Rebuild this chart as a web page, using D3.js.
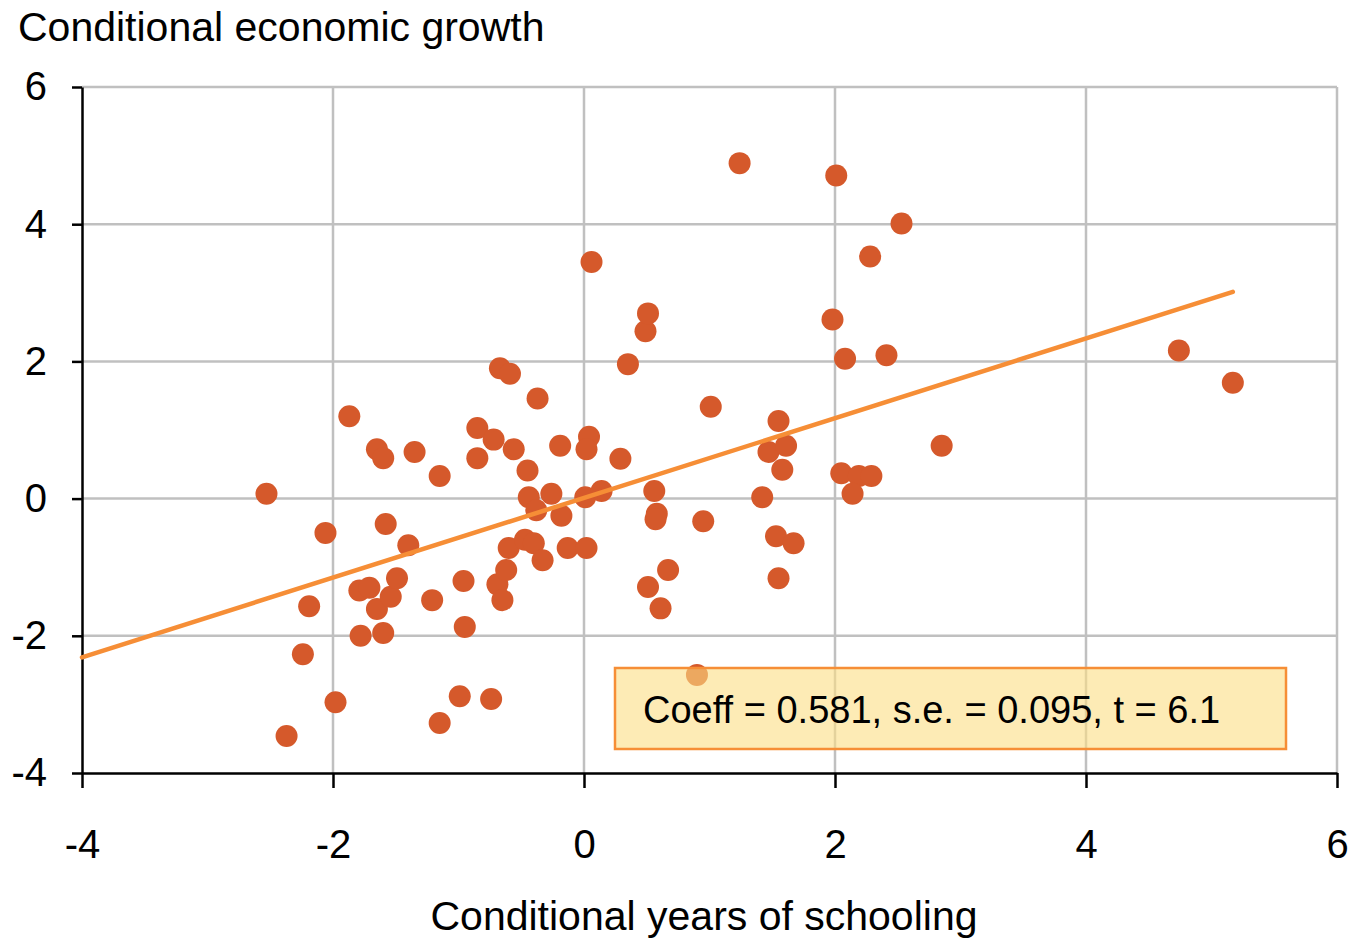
<!DOCTYPE html>
<html>
<head>
<meta charset="utf-8">
<script src="https://cdn.jsdelivr.net/npm/d3@7"></script>
<style>
  body { margin: 0; background: #fff; }
  text { font-family: "Liberation Sans", Arial, sans-serif; fill: #000; }
</style>
</head>
<body>
<div id="chart"></div>
<script>
// conditional years of schooling (x) and conditional economic growth (y), one entry per country
const schooling = [
  -2.53, -1.87, -2.06, -2.19, -2.24, -2.37, -1.98, -1.78, -1.79, -1.71,
  -1.65, -1.54, -1.60, -1.49, -1.65, -1.60, -1.58, -1.40, -1.35, -1.15,
  -1.21, -1.15, -0.99, -0.96, -0.95, -0.85, -0.85, -0.74, -0.72, -0.69,
  -0.62, -0.65, -0.60, -0.67, -0.59, -0.56, -0.37, -0.45, -0.44, -0.38,
  -0.47, -0.40, -0.33, -0.26, -0.18, -0.19, -0.13, 0.02, 0.01, 0.04,
  0.02, 0.14, 0.29, 0.06, 0.35, 0.49, 0.51, 0.56, 0.58, 0.57,
  0.51, 0.61, 0.67, 0.90, 0.95, 1.01, 1.24, 1.42, 1.47, 1.55,
  1.61, 1.58, 1.53, 1.67, 1.55, 2.01, 1.98, 2.08, 2.05, 2.19,
  2.29, 2.14, 2.28, 2.53, 2.41, 2.85, 4.74, 5.17
];
const growth = [
  0.07, 1.20, -0.50, -1.57, -2.27, -3.46, -2.97, -2.00, -1.34, -1.30,
  -1.61, -1.43, -1.96, -1.16, 0.72, 0.59, -0.37, -0.68, 0.68, 0.33,
  -1.48, -3.27, -2.88, -1.20, -1.87, 1.03, 0.59, -2.92, 0.86, -1.25,
  -1.04, -1.48, -0.72, 1.90, 1.82, 0.72, 1.46, 0.41, 0.02, -0.17,
  -0.60, -0.65, -0.90, 0.07, -0.25, 0.77, -0.72, -0.72, 0.02, 0.90,
  0.72, 0.11, 0.58, 3.45, 1.96, 2.44, 2.70, 0.11, -0.22, -0.30,
  -1.29, -1.60, -1.04, -2.57, -0.33, 1.34, 4.89, 0.02, 0.68, 1.13,
  0.77, 0.42, -0.55, -0.65, -1.16, 4.71, 2.61, 2.04, 0.37, 0.33,
  0.33, 0.07, 3.53, 4.01, 2.09, 0.77, 2.16, 1.69
];

const xTicks = [-4, -2, 0, 2, 4, 6];
const yTicks = [-4, -2, 0, 2, 4, 6];

// fitted line
const coeff = 0.581;
const intercept = 0.01;
const fitRange = [-4, 5.17];
const statsText = 'Coeff = 0.581, s.e. = 0.095, t = 6.1';

const width = 1357, height = 940;
const margin = { top: 87, right: 20, bottom: 167, left: 82 };

const svg = d3.select('#chart').append('svg')
    .attr('width', width)
    .attr('height', height);

const x = d3.scaleLinear().domain([-4, 6]).range([margin.left, width - margin.right]);
const y = d3.scaleLinear().domain([-4, 6]).range([height - margin.bottom, margin.top]);

// gridlines
svg.append('g').selectAll('line.v')
    .data(xTicks.slice(1))
    .join('line')
    .attr('x1', d => x(d)).attr('x2', d => x(d))
    .attr('y1', y(-4)).attr('y2', y(6))
    .attr('stroke', '#c0c0c0').attr('stroke-width', 2.5);

svg.append('g').selectAll('line.h')
    .data(yTicks.slice(1))
    .join('line')
    .attr('x1', x(-4)).attr('x2', x(6))
    .attr('y1', d => y(d)).attr('y2', d => y(d))
    .attr('stroke', '#c0c0c0').attr('stroke-width', 2.5);

// axes (plain hyphen for negatives, like the original)
const fmt = d => String(d);

const yAxis = svg.append('g')
    .attr('transform', `translate(${margin.left},0)`)
    .call(d3.axisLeft(y).tickValues(yTicks).tickFormat(fmt).tickSize(10).tickSizeOuter(0).tickPadding(25));

const xAxis = svg.append('g')
    .attr('transform', `translate(0,${height - margin.bottom})`)
    .call(d3.axisBottom(x).tickValues(xTicks).tickFormat(fmt).tickSize(15).tickSizeOuter(0).tickPadding(42));

[yAxis, xAxis].forEach(g => {
  g.select('.domain').attr('stroke', '#000').attr('stroke-width', 2.5);
  g.selectAll('.tick line').attr('stroke', '#000').attr('stroke-width', 2.5);
  g.selectAll('.tick text')
    .style('font-family', '"Liberation Sans", Arial, sans-serif')
    .style('font-size', '40px')
    .attr('fill', '#000');
});

// points
svg.append('g').selectAll('circle')
    .data(d3.zip(schooling, growth))
    .join('circle')
    .attr('cx', d => x(d[0]))
    .attr('cy', d => y(d[1]))
    .attr('r', 11)
    .attr('fill', '#d5592b');

// fitted line
const fitLine = d3.line()
    .x(d => x(d))
    .y(d => y(intercept + coeff * d));

svg.append('path')
    .attr('d', fitLine(fitRange))
    .attr('fill', 'none')
    .attr('stroke', '#f68e36')
    .attr('stroke-width', 4.5)
    .attr('stroke-linecap', 'round');

// stats box
svg.append('rect')
    .attr('x', 615).attr('y', 668)
    .attr('width', 671).attr('height', 81)
    .attr('fill', 'rgb(252,222,132)')
    .attr('fill-opacity', 0.6)
    .attr('stroke', '#f68e36')
    .attr('stroke-width', 2.5);

svg.append('text')
    .attr('x', 643).attr('y', 723)
    .style('font-size', '38px')
    .text(statsText);

// titles
svg.append('text')
    .attr('x', 18).attr('y', 41)
    .style('font-size', '41px')
    .text('Conditional economic growth');

svg.append('text')
    .attr('x', 704).attr('y', 930)
    .attr('text-anchor', 'middle')
    .style('font-size', '41px')
    .text('Conditional years of schooling');
</script>
</body>
</html>
